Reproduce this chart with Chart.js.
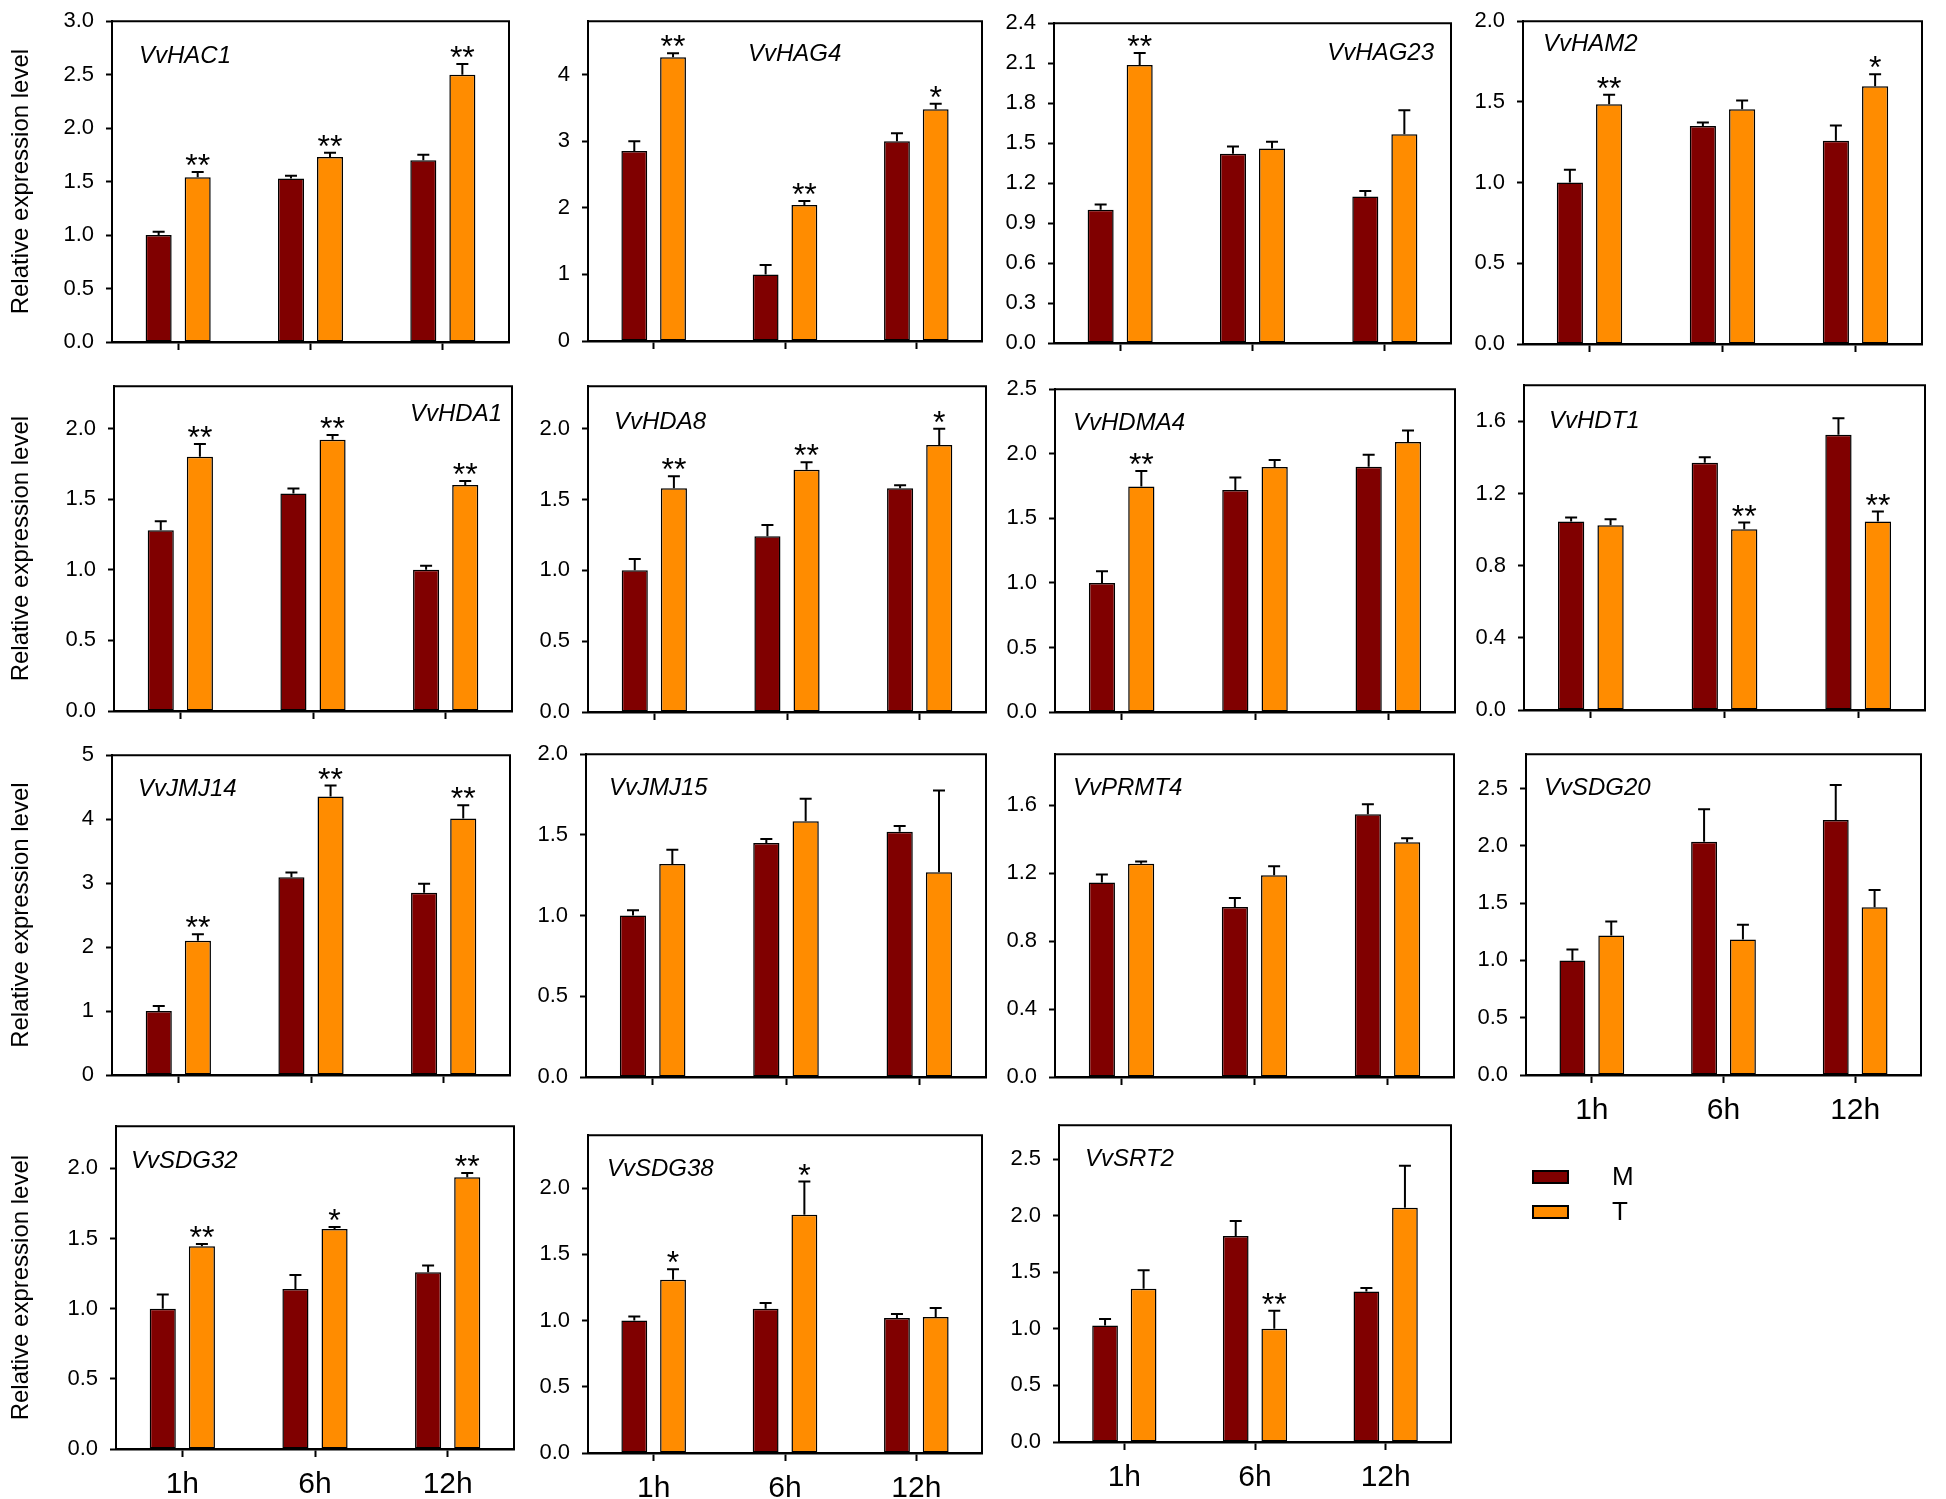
<!DOCTYPE html>
<html>
<head>
<meta charset="utf-8">
<script src="https://cdn.jsdelivr.net/npm/chart.js@4.4.1/dist/chart.umd.min.js"></script>
<style>
  body { margin: 0; background: #fff; width: 1946px; height: 1499px; position: relative; overflow: hidden; }
  canvas { position: absolute; }
</style>
</head>
<body>
<script>
// ---- data ----
const times = ['1h', '6h', '12h'];
const seriesNames = ['M', 'T'];
const genes = ['VvHAC1', 'VvHAG4', 'VvHAG23', 'VvHAM2', 'VvHDA1', 'VvHDA8', 'VvHDMA4', 'VvHDT1',
               'VvJMJ14', 'VvJMJ15', 'VvPRMT4', 'VvSDG20', 'VvSDG32', 'VvSDG38', 'VvSRT2'];

const mValues = [
  [1.00, 1.53, 1.70],
  [2.85, 1.00, 3.00],
  [1.00, 1.42, 1.10],
  [1.00, 1.35, 1.26],
  [1.28, 1.54, 1.00],
  [1.00, 1.24, 1.58],
  [1.00, 1.72, 1.90],
  [1.045, 1.37, 1.525],
  [1.00, 3.09, 2.85],
  [1.00, 1.45, 1.52],
  [1.145, 1.00, 1.547],
  [1.00, 2.035, 2.225],
  [1.00, 1.14, 1.26],
  [1.00, 1.09, 1.02],
  [1.03, 1.82, 1.33]
];
const mErrors = [
  [0.03, 0.025, 0.05],
  [0.15, 0.14, 0.12],
  [0.04, 0.055, 0.04],
  [0.08, 0.022, 0.094],
  [0.063, 0.035, 0.028],
  [0.08, 0.08, 0.02],
  [0.09, 0.097, 0.092],
  [0.022, 0.031, 0.092],
  [0.077, 0.077, 0.14],
  [0.033, 0.025, 0.035],
  [0.047, 0.053, 0.058],
  [0.095, 0.284, 0.307],
  [0.10, 0.10, 0.047],
  [0.03, 0.043, 0.03],
  [0.058, 0.134, 0.032]
];
const tValues = [
  [1.54, 1.73, 2.50],
  [4.26, 2.04, 3.48],
  [2.086, 1.46, 1.566],
  [1.485, 1.454, 1.597],
  [1.80, 1.92, 1.60],
  [1.58, 1.71, 1.885],
  [1.746, 1.897, 2.091],
  [1.024, 1.002, 1.045],
  [2.10, 4.356, 4.01],
  [1.32, 1.585, 1.268],
  [1.255, 1.187, 1.382],
  [1.218, 1.183, 1.465],
  [1.445, 1.567, 1.936],
  [1.308, 1.80, 1.028],
  [1.354, 1.00, 2.071]
];
const tErrors = [
  [0.05, 0.04, 0.10],
  [0.06, 0.06, 0.08],
  [0.09, 0.05, 0.18],
  [0.06, 0.055, 0.074],
  [0.09, 0.035, 0.028],
  [0.085, 0.054, 0.115],
  [0.12, 0.054, 0.09],
  [0.033, 0.037, 0.055],
  [0.10, 0.17, 0.206],
  [0.088, 0.139, 0.507],
  [0.014, 0.053, 0.023],
  [0.122, 0.128, 0.15],
  [0.016, 0.014, 0.031],
  [0.08, 0.25, 0.067],
  [0.163, 0.16, 0.37]
];
const tStars = [
  ['**', '**', '**'],
  ['**', '**', '*'],
  ['**', '', ''],
  ['**', '', '*'],
  ['**', '**', '**'],
  ['**', '**', '*'],
  ['**', '', ''],
  ['', '**', '**'],
  ['**', '**', '**'],
  ['', '', ''],
  ['', '', ''],
  ['', '', ''],
  ['**', '*', '**'],
  ['*', '*', ''],
  ['', '**', '']
];
const yMax = [3.0, 4.8, 2.4, 2.0, 2.3, 2.3, 2.5, 1.8, 5, 2.0, 1.9, 2.8, 2.3, 2.4, 2.8];
const yTickLabels = [
  ['0.0', '0.5', '1.0', '1.5', '2.0', '2.5', '3.0'],
  ['0', '1', '2', '3', '4'],
  ['0.0', '0.3', '0.6', '0.9', '1.2', '1.5', '1.8', '2.1', '2.4'],
  ['0.0', '0.5', '1.0', '1.5', '2.0'],
  ['0.0', '0.5', '1.0', '1.5', '2.0'],
  ['0.0', '0.5', '1.0', '1.5', '2.0'],
  ['0.0', '0.5', '1.0', '1.5', '2.0', '2.5'],
  ['0.0', '0.4', '0.8', '1.2', '1.6'],
  ['0', '1', '2', '3', '4', '5'],
  ['0.0', '0.5', '1.0', '1.5', '2.0'],
  ['0.0', '0.4', '0.8', '1.2', '1.6'],
  ['0.0', '0.5', '1.0', '1.5', '2.0', '2.5'],
  ['0.0', '0.5', '1.0', '1.5', '2.0'],
  ['0.0', '0.5', '1.0', '1.5', '2.0'],
  ['0.0', '0.5', '1.0', '1.5', '2.0', '2.5']
];
const yTitle = 'Relative expression level';

// ---- layout (page px) ----
// plot area of each panel: left, top, right, bottom
const boxes = [
  [112, 18, 509, 342], [588, 18, 982, 341], [1054, 20, 1451, 343], [1523, 18, 1922, 344],
  [114, 383, 512, 711], [588, 383, 986, 712], [1055, 386, 1455, 712], [1524, 382, 1925, 710],
  [112, 752, 510, 1075], [586, 751, 986, 1077], [1055, 751, 1454, 1077], [1526, 751, 1921, 1075],
  [116, 1123, 514, 1449], [588, 1132, 982, 1453], [1059, 1122, 1451, 1442]
];
// gene name: x, baseline y, alignment
const nameAt = [
  [139, 63, 'left'], [748, 61, 'left'], [1434, 60, 'right'], [1543, 51, 'left'],
  [502, 421, 'right'], [614, 429, 'left'], [1073, 430, 'left'], [1549, 428, 'left'],
  [138, 796, 'left'], [609, 795, 'left'], [1073, 795, 'left'], [1544, 795, 'left'],
  [131, 1168, 'left'], [607, 1176, 'left'], [1085, 1166, 'left']
];
const withXLabels = [11, 12, 13, 14];
const firstColumn = [0, 4, 8, 12];
const colors = ['#800000', '#ff8c00'];

Chart.defaults.font.family = 'Arial, "Liberation Sans", sans-serif';
Chart.defaults.color = '#000';

// error bars, stars, frame and gene name
const panelDecor = {
  id: 'panelDecor',
  afterDatasetsDraw(chart, args, opts) {
    const { ctx, chartArea: a, scales: { y } } = chart;
    ctx.save();
    ctx.strokeStyle = '#000';
    ctx.fillStyle = '#000';
    chart.data.datasets.forEach((ds, di) => {
      chart.getDatasetMeta(di).data.forEach((bar, i) => {
        const top = y.getPixelForValue(ds.data[i] + ds.errors[i]);
        ctx.lineWidth = 2;
        ctx.beginPath();
        ctx.moveTo(bar.x, bar.y);
        ctx.lineTo(bar.x, top);
        ctx.moveTo(bar.x - 6, top);
        ctx.lineTo(bar.x + 6, top);
        ctx.stroke();
        if (ds.stars && ds.stars[i]) {
          ctx.font = '32px Arial, "Liberation Sans", sans-serif';
          ctx.textAlign = 'center';
          ctx.textBaseline = 'alphabetic';
          ctx.fillText(ds.stars[i], bar.x, top + 4);
        }
      });
    });
    // top and right sides of the frame
    ctx.lineWidth = 2;
    ctx.beginPath();
    ctx.moveTo(a.left, a.top);
    ctx.lineTo(a.right, a.top);
    ctx.lineTo(a.right, a.bottom);
    ctx.stroke();
    // gene name
    ctx.font = 'italic 24px Arial, "Liberation Sans", sans-serif';
    ctx.textAlign = opts.align;
    ctx.textBaseline = 'alphabetic';
    ctx.fillText(opts.name, opts.x, opts.y);
    ctx.restore();
  }
};

// legend drawn beside the last panel
const sideLegend = {
  id: 'sideLegend',
  afterDraw(chart, args, opts) {
    if (!opts.show) return;
    const ctx = chart.ctx;
    ctx.save();
    chart.data.datasets.forEach((ds, i) => {
      const bx = opts.x, by = opts.y + i * 35;
      ctx.fillStyle = ds.backgroundColor;
      ctx.fillRect(bx, by, 35, 12);
      ctx.lineWidth = 2;
      ctx.strokeStyle = '#000';
      ctx.strokeRect(bx, by, 35, 12);
      ctx.fillStyle = '#000';
      ctx.font = '26px Arial, "Liberation Sans", sans-serif';
      ctx.textAlign = 'left';
      ctx.textBaseline = 'middle';
      ctx.fillText(ds.label, bx + 79, by + 7);
    });
    ctx.restore();
  }
};

genes.forEach((gene, i) => {
  const [L, T, R, B] = boxes[i];
  const first = firstColumn.includes(i);
  const labelled = withXLabels.includes(i);
  const xh = labelled ? 60 : 30;
  const cl = first ? 0 : L - 70;
  const ct = T - 22;
  const cr = i === 14 ? 1700 : R + 8;
  const cw = cr - cl;
  const ch = B + xh - ct;

  const canvas = document.createElement('canvas');
  canvas.width = cw;
  canvas.height = ch;
  canvas.style.left = cl + 'px';
  canvas.style.top = ct + 'px';
  canvas.style.width = cw + 'px';
  canvas.style.height = ch + 'px';
  document.body.appendChild(canvas);

  const ticks = yTickLabels[i];

  new Chart(canvas.getContext('2d'), {
    type: 'bar',
    data: {
      labels: times,
      datasets: [
        {
          label: seriesNames[0], data: mValues[i], errors: mErrors[i],
          backgroundColor: colors[0], borderColor: '#000', borderWidth: 1.5, borderSkipped: false,
          categoryPercentage: 0.59, barPercentage: 0.667
        },
        {
          label: seriesNames[1], data: tValues[i], errors: tErrors[i], stars: tStars[i],
          backgroundColor: colors[1], borderColor: '#000', borderWidth: 1.5, borderSkipped: false,
          categoryPercentage: 0.59, barPercentage: 0.667
        }
      ]
    },
    options: {
      responsive: false,
      animation: false,
      devicePixelRatio: 1,
      layout: { autoPadding: false, padding: { left: 0, top: 22, right: cr - R, bottom: 0 } },
      plugins: {
        legend: { display: false },
        tooltip: { enabled: false },
        panelDecor: { name: gene, x: nameAt[i][0] - cl, y: nameAt[i][1] - ct, align: nameAt[i][2] },
        sideLegend: { show: i === 14, x: 1533 - cl, y: 1171 - ct }
      },
      scales: {
        x: {
          grid: { drawOnChartArea: false, drawTicks: true, tickLength: 8, offset: false, tickColor: '#000', tickWidth: 2 },
          border: { display: true, color: '#000', width: 2.5 },
          ticks: { color: labelled ? '#000' : 'rgba(0,0,0,0)', font: { size: 30 }, padding: 10, maxRotation: 0, autoSkip: false },
          afterFit: s => { s.height = xh; }
        },
        y: {
          min: 0,
          max: yMax[i],
          grid: { drawOnChartArea: false, drawTicks: true, tickLength: 6, tickColor: '#000', tickWidth: 2 },
          border: { display: true, color: '#000', width: 2 },
          ticks: { font: { size: 22 }, padding: 12, callback: (v, idx) => ticks[idx] },
          afterBuildTicks: s => { s.ticks = ticks.map(t => ({ value: parseFloat(t) })); },
          title: { display: first, text: yTitle, font: { size: 24 }, padding: { top: 7, bottom: 0 } },
          afterFit: s => { s.width = L - cl; }
        }
      }
    },
    plugins: [panelDecor, sideLegend]
  });
});
</script>
</body>
</html>
